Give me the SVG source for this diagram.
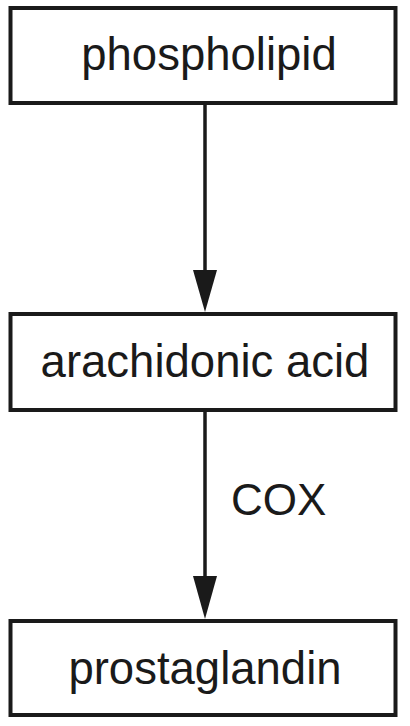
<svg xmlns="http://www.w3.org/2000/svg" width="410" height="726" viewBox="0 0 410 726">
<style>
.box{fill:#ffffff;stroke:#1a1a1a;stroke-width:4}
.lbl{font-family:"Liberation Sans",Arial,sans-serif;font-size:45.5px;fill:#1a1a1a;text-anchor:middle}
.edge{stroke:#1a1a1a;stroke-width:3.5;fill:none}
.head{fill:#1a1a1a;stroke:none}
</style>
<rect width="410" height="726" fill="#ffffff"/>
<g id="connectors">
<line class="edge" x1="205" y1="103" x2="205" y2="275"/>
<polygon class="head" points="193,270 217,270 205,312"/>
<line class="edge" x1="205" y1="410" x2="205" y2="580"/>
<polygon class="head" points="193,576 217,576 205,619"/>
<text x="231" y="515" style="font-family:'Liberation Sans',Arial,sans-serif;font-size:44px;fill:#1a1a1a">COX</text>
</g>
<g id="phospholipid">
<rect class="box" x="10.5" y="8" width="385" height="95"/>
<text class="lbl" x="209" y="70">phospholipid</text>
</g>
<g id="arachidonic_acid">
<rect class="box" x="10.5" y="314" width="385" height="96"/>
<text class="lbl" x="205" y="376.5">arachidonic acid</text>
</g>
<g id="prostaglandin">
<rect class="box" x="10.5" y="621" width="385" height="94"/>
<text class="lbl" x="205" y="684">prostaglandin</text>
</g>
</svg>
